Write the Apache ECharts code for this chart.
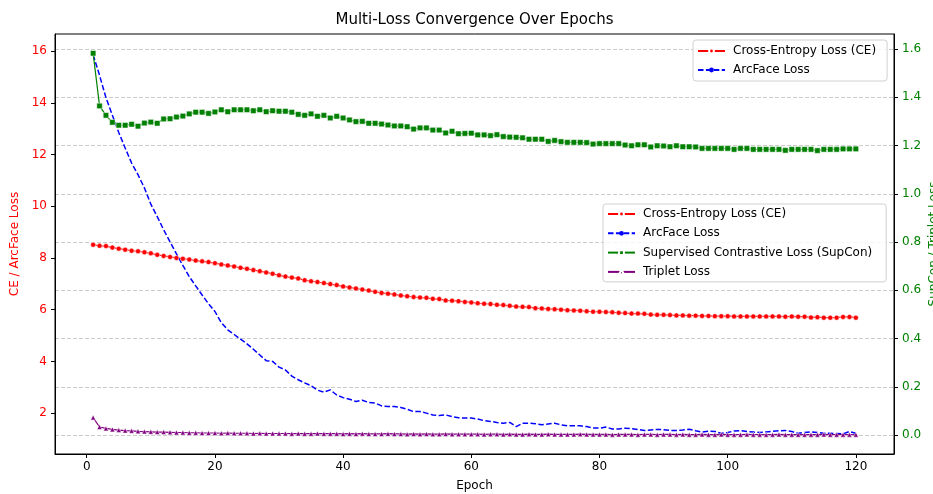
<!DOCTYPE html>
<html><head><meta charset="utf-8">
<script src="https://cdn.jsdelivr.net/npm/echarts@6/dist/echarts.min.js"></script>
<style>html,body{margin:0;padding:0;background:#fff}#c{width:933px;height:494px}</style>
</head><body><div id="c"></div>
<script>
const epochs = [1,2,3,4,5,6,7,8,9,10,11,12,13,14,15,16,17,18,19,20,21,22,23,24,25,26,27,28,29,30,
31,32,33,34,35,36,37,38,39,40,41,42,43,44,45,46,47,48,49,50,51,52,53,54,55,56,57,58,59,60,
61,62,63,64,65,66,67,68,69,70,71,72,73,74,75,76,77,78,79,80,81,82,83,84,85,86,87,88,89,90,
91,92,93,94,95,96,97,98,99,100,101,102,103,104,105,106,107,108,109,110,111,112,113,114,115,116,117,118,119,120];
const ceLoss = [8.51,8.47,8.46,8.40,8.36,8.32,8.28,8.26,8.22,8.18,
8.12,8.08,8.04,8.00,7.97,7.94,7.90,7.87,7.84,7.80,
7.75,7.71,7.67,7.62,7.58,7.53,7.49,7.44,7.39,7.33,
7.28,7.24,7.21,7.14,7.10,7.07,7.03,6.99,6.95,6.90,
6.86,6.82,6.78,6.74,6.69,6.65,6.62,6.59,6.55,6.52,
6.49,6.47,6.46,6.42,6.41,6.36,6.35,6.33,6.30,6.28,
6.25,6.23,6.22,6.19,6.18,6.15,6.12,6.11,6.10,6.06,
6.05,6.03,6.02,6.00,5.98,5.97,5.96,5.94,5.92,5.92,
5.91,5.90,5.88,5.87,5.85,5.85,5.84,5.81,5.80,5.80,
5.79,5.78,5.78,5.77,5.77,5.76,5.76,5.75,5.75,5.75,
5.74,5.74,5.74,5.74,5.74,5.74,5.74,5.74,5.73,5.74,
5.73,5.73,5.70,5.71,5.69,5.69,5.69,5.72,5.72,5.69];
const arcfaceLoss = [15.86,15.06,14.20,13.52,12.85,12.25,11.67,11.22,10.71,10.08,
9.60,9.09,8.62,8.16,7.71,7.28,6.92,6.57,6.23,5.93,
5.50,5.22,5.04,4.86,4.68,4.47,4.25,4.03,4.00,3.78,
3.67,3.43,3.29,3.17,3.06,2.89,2.81,2.90,2.70,2.60,
2.54,2.45,2.50,2.41,2.39,2.28,2.26,2.26,2.22,2.15,
2.06,2.06,2.00,1.93,1.91,1.93,1.87,1.82,1.81,1.81,
1.77,1.71,1.68,1.64,1.61,1.64,1.48,1.61,1.61,1.59,
1.55,1.58,1.61,1.55,1.51,1.51,1.51,1.48,1.43,1.42,
1.46,1.39,1.39,1.42,1.40,1.37,1.33,1.35,1.37,1.36,
1.33,1.33,1.35,1.38,1.32,1.27,1.30,1.29,1.22,1.25,
1.31,1.32,1.29,1.27,1.25,1.27,1.30,1.32,1.33,1.29,
1.22,1.25,1.27,1.25,1.22,1.22,1.21,1.20,1.29,1.22];
const supconLoss = [1.582,1.364,1.325,1.296,1.284,1.284,1.288,1.280,1.293,1.297,
1.292,1.310,1.311,1.318,1.322,1.331,1.338,1.338,1.333,1.339,
1.348,1.340,1.348,1.348,1.348,1.344,1.348,1.340,1.344,1.342,
1.342,1.338,1.329,1.325,1.331,1.321,1.325,1.314,1.321,1.314,
1.306,1.299,1.300,1.292,1.292,1.289,1.285,1.281,1.281,1.278,
1.268,1.273,1.273,1.264,1.264,1.252,1.259,1.249,1.250,1.251,
1.244,1.244,1.241,1.245,1.237,1.235,1.234,1.232,1.226,1.226,
1.226,1.217,1.221,1.216,1.213,1.213,1.213,1.212,1.206,1.208,
1.208,1.208,1.208,1.202,1.199,1.203,1.203,1.194,1.199,1.198,
1.195,1.199,1.195,1.195,1.194,1.188,1.188,1.188,1.188,1.188,
1.184,1.188,1.188,1.184,1.184,1.184,1.184,1.184,1.180,1.184,
1.184,1.184,1.184,1.179,1.184,1.184,1.184,1.186,1.186,1.186];
const tripletLoss = [0.073,0.034,0.028,0.024,0.021,0.019,0.018,0.016,0.015,0.014,
0.013,0.013,0.012,0.011,0.011,0.010,0.010,0.009,0.009,0.009,
0.008,0.009,0.008,0.008,0.008,0.007,0.008,0.007,0.007,0.007,
0.007,0.006,0.007,0.006,0.006,0.007,0.006,0.006,0.006,0.005,
0.006,0.005,0.006,0.005,0.005,0.005,0.006,0.005,0.005,0.004,
0.005,0.004,0.005,0.004,0.004,0.005,0.004,0.004,0.004,0.004,
0.004,0.003,0.004,0.004,0.003,0.004,0.003,0.003,0.004,0.003,
0.003,0.004,0.003,0.003,0.003,0.003,0.004,0.003,0.003,0.003,
0.003,0.002,0.003,0.003,0.003,0.002,0.003,0.003,0.002,0.003,
0.003,0.002,0.003,0.002,0.002,0.003,0.002,0.002,0.003,0.002,
0.002,0.002,0.003,0.002,0.002,0.002,0.002,0.003,0.002,0.002,
0.002,0.002,0.002,0.002,0.003,0.002,0.002,0.002,0.002,0.002];
const xTicks = [0,20,40,60,80,100,120];
const leftTicks = [2,4,6,8,10,12,14,16];
const rightTicks = [0,0.2,0.4,0.6,0.8,1.0,1.2,1.4,1.6];
const seriesNames = ['Cross-Entropy Loss (CE)','ArcFace Loss','Supervised Contrastive Loss (SupCon)','Triplet Loss'];
const titleText = 'Multi-Loss Convergence Over Epochs';
const rightAxisName = 'SupCon / Triplet Loss';

const FONT = 'DejaVu Sans';
const pair = arr => epochs.map((e, i) => [e, arr[i]]);
const chart = echarts.init(document.getElementById('c'), null, {renderer: 'canvas'});
const legendBase = {
  orient: 'vertical', itemWidth: 27, itemHeight: 6, itemGap: 7,
  textStyle: {fontFamily: FONT, fontSize: 12, color: '#000', padding: [0,0,0,3]},
  backgroundColor: 'rgba(255,255,255,0.8)', borderColor: '#d0d0d0', borderWidth: 1, borderRadius: 3,
  selectedMode: false
};
chart.setOption({
  animation: false,
  textStyle: {fontFamily: FONT},
  graphic: [
    {type: 'text', x: 474.5, y: 20, style: {text: titleText, font: '15px "DejaVu Sans"', fill: '#000', align: 'center', verticalAlign: 'middle'}},
    {type: 'text', x: 934, y: 244, rotation: Math.PI / 2, style: {text: rightAxisName, font: '12px "DejaVu Sans"', fill: '#008000', align: 'center', verticalAlign: 'middle'}}
  ],
  grid: {left: 55, right: 39, top: 34, bottom: 40, show: true, borderColor: '#000', borderWidth: 1, containLabel: false, outerBoundsMode: 'none'},
  legend: [
    Object.assign({}, legendBase, {data: seriesNames.slice(0, 2), left: 693, top: 40, padding: [5, 11, 5, 4]}),
    Object.assign({}, legendBase, {data: seriesNames, left: 603, top: 204, padding: [4, 14, 4, 4], itemGap: 7.3})
  ],
  xAxis: {
    type: 'value', min: -4.95, max: 125.95, name: 'Epoch', nameLocation: 'middle', nameGap: 26,
    nameTextStyle: {fontSize: 12, color: '#000', fontFamily: FONT},
    axisLine: {onZero: false, lineStyle: {color: '#000'}},
    axisTick: {customValues: xTicks, length: 4, lineStyle: {color: '#000'}},
    axisLabel: {customValues: xTicks, margin: 7, fontSize: 12, color: '#000', fontFamily: FONT},
    splitLine: {show: false}
  },
  yAxis: [{
    type: 'value', position: 'left', min: 0.42, max: 16.66, name: 'CE / ArcFace Loss', nameLocation: 'middle', nameGap: 31, nameRotate: 90,
    nameTextStyle: {fontSize: 12, color: '#ff0000', fontFamily: FONT},
    axisLine: {show: true, onZero: false, lineStyle: {color: '#000'}},
    axisTick: {show: true, customValues: leftTicks, length: 4, lineStyle: {color: '#000'}},
    axisLabel: {customValues: leftTicks, margin: 8, fontSize: 12, color: '#ff0000', fontFamily: FONT},
    splitLine: {show: false}
  }, {
    type: 'value', position: 'right', min: -0.078, max: 1.662,
    axisLine: {show: true, onZero: false, lineStyle: {color: '#000'}},
    axisTick: {show: true, customValues: rightTicks, length: 4, lineStyle: {color: '#000'}},
    axisLabel: {customValues: rightTicks, margin: 8, fontSize: 12, color: '#008000', fontFamily: FONT, formatter: v => v.toFixed(1)},
    splitLine: {show: true, lineStyle: {color: '#cccccc', type: [4, 2], width: 1}}
  }],
  series: [
    {name: seriesNames[0], type: 'line', yAxisIndex: 0, data: pair(ceLoss), symbol: 'circle', symbolSize: 5, showAllSymbol: true,
      lineStyle: {color: '#ff0000', width: 1.2}, itemStyle: {color: '#ff0000', borderColor: '#ffffff', borderWidth: 0.5}},
    {name: seriesNames[1], type: 'line', yAxisIndex: 0, data: pair(arcfaceLoss), symbol: 'none',
      lineStyle: {color: '#0000ff', width: 1.5, type: [5.5, 2.4]}, itemStyle: {color: '#0000ff'}},
    {name: seriesNames[2], type: 'line', yAxisIndex: 1, data: pair(supconLoss), symbol: 'rect', symbolSize: 5.5, showAllSymbol: true,
      lineStyle: {color: '#008000', width: 1.2}, itemStyle: {color: '#008000', borderColor: '#ffffff', borderWidth: 0.5}},
    {name: seriesNames[3], type: 'line', yAxisIndex: 1, data: pair(tripletLoss), symbol: 'triangle', symbolSize: 5, showAllSymbol: true,
      lineStyle: {color: '#800080', width: 1.2}, itemStyle: {color: '#800080', borderColor: '#ffffff', borderWidth: 0.5}}
  ]
});
</script>
</body></html>
